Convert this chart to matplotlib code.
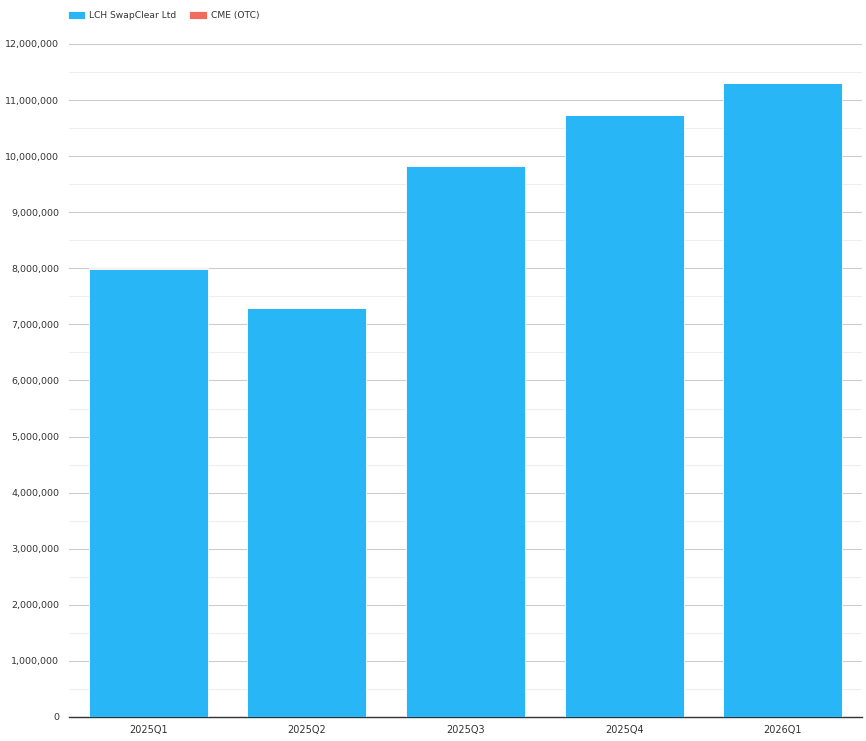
import matplotlib.pyplot as plt
import numpy as np
from matplotlib.ticker import MultipleLocator, FuncFormatter

quarters = ['2025Q1', '2025Q2', '2025Q3', '2025Q4', '2026Q1']
lch = [7990000, 7290000, 9820000, 10730000, 11300000]
cme = [15000, 10000, 15000, 12000, 12000]

blue = '#29b6f6'
red = '#ef6c5f'

fig = plt.figure(figsize=(8.66, 7.41), dpi=100)
ax = fig.add_axes([69/866, 24/741, 793/866, 673/741])

x = np.arange(len(quarters))
ax.bar(x, lch, width=0.75, color=blue, edgecolor='white', linewidth=0.6, label='LCH SwapClear Ltd', zorder=3)
ax.bar(x, cme, width=0.75, bottom=lch, color=red, edgecolor='white', linewidth=0.6, label='CME (OTC)', zorder=3)

ax.set_xlim(-0.5, len(quarters) - 0.5)
ax.set_ylim(0, 12000000)
ax.yaxis.set_major_locator(MultipleLocator(1000000))
ax.yaxis.set_minor_locator(MultipleLocator(500000))
ax.yaxis.set_major_formatter(FuncFormatter(lambda v, p: f'{int(v):,}'))
ax.grid(axis='y', which='major', color='#cccccc', linewidth=0.8, zorder=0)
ax.grid(axis='y', which='minor', color='#eeeeee', linewidth=0.8, zorder=0)

for s in ['top', 'right', 'left']:
    ax.spines[s].set_visible(False)
ax.spines['bottom'].set_color('#333333')
ax.spines['bottom'].set_linewidth(1)

ax.set_xticks(x)
ax.set_xticklabels(quarters)
ax.tick_params(axis='x', length=0, labelsize=7, colors='#333333', pad=6)
ax.tick_params(axis='y', which='both', length=0, labelsize=6.8, colors='#333333', pad=7)

ax.legend(loc='upper left', bbox_to_anchor=(-0.012, 1.062), ncol=2, frameon=False,
          fontsize=6.6, handlelength=1.9, handleheight=1.1, columnspacing=1.4, handletextpad=0.45,
          labelcolor='#333333')

plt.savefig('out.png', dpi=100)
